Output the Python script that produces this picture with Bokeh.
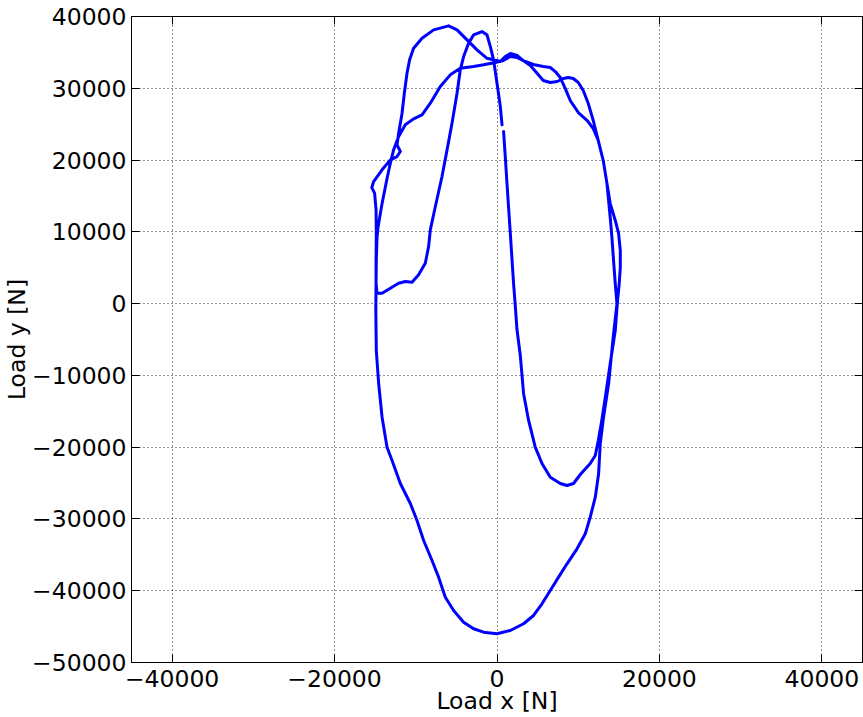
import math
from bokeh.plotting import figure
from bokeh.models import Range1d, FixedTicker, LinearAxis
from bokeh.embed import file_html
from bokeh.resources import INLINE

# Load trajectory (N), in drawing order
load_x = [
    810, 1020, 1230, 1640, 2040, 2250, 2460, 2870, 3270, 3890, 4710, 5540, 6560, 7790, 8620,
    9430, 10250, 11480, 12100, 12470, 12900, 13330, 13940, 14560,
    14840, 15050, 15180, 15180, 14970, 14560, 13940, 13540,
    13080, 12470, 11850, 11110, 10010, 9020, 8410, 7790, 7180, 6560, 5700, 4470, 3240,
    2500, 1640, 1020, 410,
    -1230, -2460, -3690, -4920, -5960, -7800, -9230, -10270, -10760, -11080, -11410, -11690,
    -12110, -12310, -11900, -12310, -13130, -14150, -15190, -15410, -15070, -14890, -14860,
    -14890, -14890, -14920,
    -14860, -14570, -14150, -13540, -12920, -11900, -10670, -9850, -9030, -8000, -7190, -6360,
    -5340, -4110, -2880, -1650, 0, 1640, 3270, 4500, 5540, 6560, 7580, 8620, 9850, 10870,
    11480, 12100, 12510, 12710, 13120, 13740, 14350, 14770,
    14560, 14350, 14150, 13940, 13740, 13540, 13080, 12470,
    11850, 11240, 10620, 10010, 9390, 8780, 8160, 7420, 6560, 5700, 4960, 4100, 3240, 2500,
    1640, 780, -210,
    -1650, -2880, -4520, -5750, -6980, -8210, -9230, -10270, -11290, -12110, -12730, -13130,
    -13540, -14150, -14650, -14770, -14860, -14890, -14770, -14150, -13130, -12110, -11290,
    -10460, -9650, -8830, -8420, -8210, -7590, -6770, -6150, -5540, -4920, -4520, -4110,
    -3500, -2880, -1850, -1230, -820, -420, 0, 410, 620,
]
load_y = [
    23970, 20490, 16730, 9770, 2800, -265, -3610, -7230, -12520, -16280, -20000, -22270, -24180,
    -25060, -25340, -25060, -23810, -22270, -21160, -19070, -16280, -13080, -8340, -3750,
    430, 2800, 5030, 7400, 9770, 11580, 13940, 16730,
    19930, 22720, 24390, 25510, 26620, 28290, 29960, 31500, 32330, 32890, 33030, 33310, 33860,
    34560, 34840, 34420, 33720,
    34180, 35350, 36750, 38140, 38700, 38140, 36970, 35580, 33960, 32090, 29310, 26520,
    23740, 22120, 21190, 20490, 20030, 18640, 17010, 16170, 15380, 13070, 9810,
    6000, 2840, -960,
    -6530, -11130, -15820, -20000, -21860, -25060, -27850, -30210, -33000, -35790, -38110,
    -40900, -42750, -44380, -45300, -45770, -46000, -45540, -44600, -43450, -41820, -39970,
    -38110, -36250, -34160, -32070, -29750, -26970, -23710, -19530, -15820, -11170, -4210, 0,
    2800, 6000, 9210, 11990, 14360, 16730, 19930, 22720,
    25510, 27870, 29690, 30800, 31360, 31500, 31360, 30940, 30800, 31080, 32050, 33170, 33860,
    34280, 34420, 33860, 33590,
    33270, 33030, 32790, 31870, 30240, 27920, 26300, 25740, 24910, 23280, 21420, 19560,
    17430, 13940, 10640, 9250, 6000, 2800, 1450, 1450, 2150, 2840, 3080,
    2980, 4010, 5630, 7950, 10280, 13530, 17710, 21420, 25130, 29310, 32570, 34420,
    36270, 37440, 37900, 37440, 35810, 33960, 30700, 27460, 24910,
]

x_ticks = [-40000, -20000, 0, 20000, 40000]
x_tick_labels = ["\u221240000", "\u221220000", "0", "20000", "40000"]
y_ticks = [-50000, -40000, -30000, -20000, -10000, 0, 10000, 20000, 30000, 40000]
y_tick_labels = ["\u221250000", "\u221240000", "\u221230000", "\u221220000", "\u221210000",
                 "0", "10000", "20000", "30000", "40000"]
x_label = "Load x [N]"
y_label = "Load y [N]"

FONT = "DejaVu Sans"
FS = "23.5px"

p = figure(width=863, height=717, output_backend="svg", toolbar_location=None,
           x_range=Range1d(-45000, 45000), y_range=Range1d(-50000, 40000),
           min_border_left=131, min_border_right=1, min_border_top=16, min_border_bottom=55,
           x_axis_location=None, y_axis_location=None)
p.background_fill_color = "white"
p.border_fill_color = "white"
p.outline_line_color = "black"
p.outline_line_width = 1

def make_axis(ticks, labels, show_labels):
    ax = LinearAxis(ticker=FixedTicker(ticks=ticks))
    ax.major_label_overrides = {t: (l if show_labels else "") for t, l in zip(ticks, labels)}
    ax.major_tick_in = 8
    ax.major_tick_out = 0
    ax.minor_tick_in = 0
    ax.minor_tick_out = 0
    ax.axis_line_color = "black"
    ax.axis_line_width = 1
    ax.major_tick_line_color = "black"
    ax.major_tick_line_width = 1
    ax.major_label_text_font = FONT
    ax.major_label_text_font_size = FS if show_labels else "1px"
    ax.major_label_text_color = "black"
    ax.major_label_standoff = 5 if show_labels else 0
    ax.axis_label_text_font = FONT
    ax.axis_label_text_font_size = FS
    ax.axis_label_text_font_style = "normal"
    ax.axis_label_text_color = "black"
    return ax

bottom = make_axis(x_ticks, x_tick_labels, True)
bottom.major_label_standoff = 7
bottom.axis_label = x_label
bottom.axis_label_standoff = -3
left = make_axis(y_ticks, y_tick_labels, True)
left.major_label_standoff = 5
left.axis_label = y_label
left.axis_label_standoff = -2
top = make_axis(x_ticks, x_tick_labels, False)
right = make_axis(y_ticks, y_tick_labels, False)
p.add_layout(bottom, "below")
p.add_layout(left, "left")
p.add_layout(top, "above")
p.add_layout(right, "right")

p.xgrid.ticker = FixedTicker(ticks=x_ticks)
p.ygrid.ticker = FixedTicker(ticks=y_ticks)
for g in (p.xgrid, p.ygrid):
    g.grid_line_color = "black"
    g.grid_line_width = 1
    g.grid_line_alpha = 0.85
    g.grid_line_dash = "1 3"

p.line(load_x, load_y, line_color="#0000ff", line_width=3, line_join="round", line_cap="round")

open("out.html", "w").write(file_html(p, INLINE))
